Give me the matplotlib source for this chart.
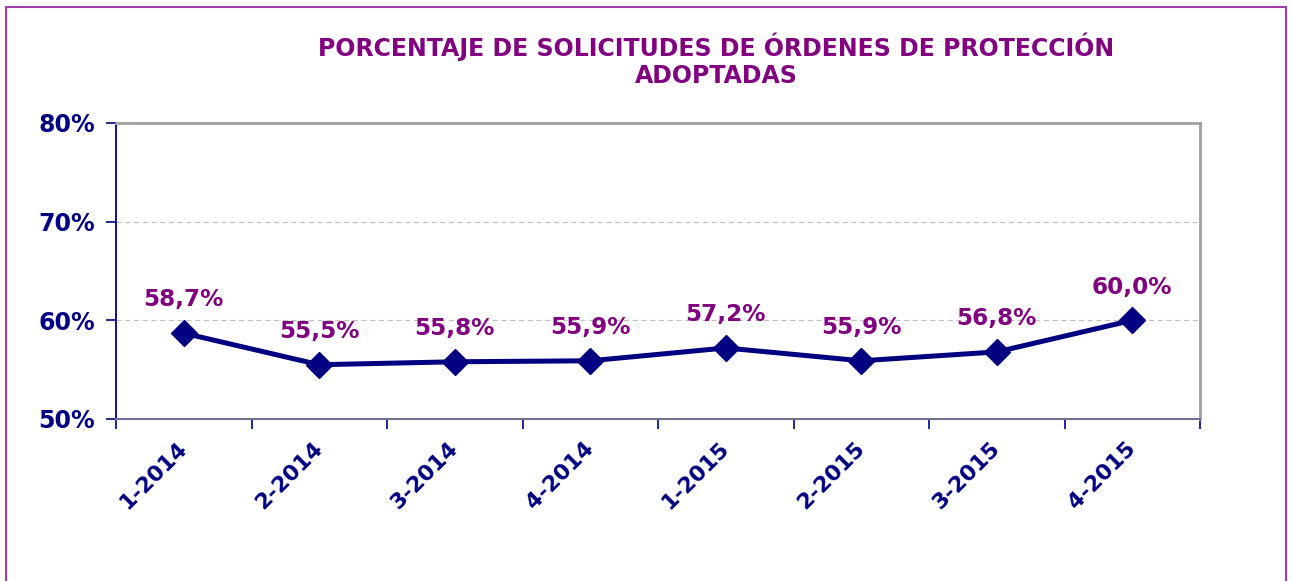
import matplotlib
matplotlib.use("Agg")
import matplotlib.pyplot as plt
from matplotlib.patches import Rectangle
from matplotlib.ticker import FixedLocator, FuncFormatter
from matplotlib.transforms import ScaledTranslation

categories = ["1-2014", "2-2014", "3-2014", "4-2014", "1-2015", "2-2015", "3-2015", "4-2015"]
values = [58.7, 55.5, 55.8, 55.9, 57.2, 55.9, 56.8, 60.0]
value_labels = ["58,7%", "55,5%", "55,8%", "55,9%", "57,2%", "55,9%", "56,8%", "60,0%"]
y_ticks = [50, 60, 70, 80]

NAVY = "#000080"
PURPLE = "#800080"

fig = plt.figure(figsize=(12.93, 5.81), dpi=100)
W, H = 1293, 581
ax = fig.add_axes([116 / W, 1 - 419 / H, (1200 - 116) / W, (419 - 123) / H])

x = list(range(len(categories)))
ax.plot(x, values, color=NAVY, lw=3.6, marker="D", markersize=13.5, zorder=3)

for xi, v, lab in zip(x, values, value_labels):
    ax.annotate(lab, (xi, v), xytext=(0, 24), textcoords="offset points",
                ha="center", va="center", color=PURPLE, fontsize=16.7, fontweight="bold")

ax.set_xlim(-0.5, len(categories) - 0.5)
ax.set_ylim(50, 80)
ax.set_yticks(y_ticks)
ax.yaxis.set_major_formatter(FuncFormatter(lambda v, p: f"{int(v)}%"))
ax.tick_params(axis="y", colors=NAVY, labelsize=17, length=7, width=1.2, pad=8)
for lab in ax.get_yticklabels():
    lab.set_fontweight("bold")

ax.set_xticks(x)
ax.set_xticklabels(categories, rotation=45, ha="right", va="top", rotation_mode="anchor",
                   fontsize=15.8, fontweight="bold", color=NAVY)
ax.tick_params(axis="x", which="major", length=0, pad=14)
shift = ScaledTranslation(-7 / 100, 0, fig.dpi_scale_trans)
for lab in ax.get_xticklabels():
    lab.set_transform(lab.get_transform() + shift)
ax.xaxis.set_minor_locator(FixedLocator([i - 0.5 for i in range(len(categories) + 1)]))
ax.tick_params(axis="x", which="minor", length=7, width=1.2, color=NAVY, direction="out")
ax.grid(axis="y", color="#c0c0c0", linestyle=(0, (4, 3)), lw=0.9)
ax.set_axisbelow(True)

ax.spines["left"].set_color(NAVY)
ax.spines["left"].set_linewidth(1.3)
ax.spines["bottom"].set_color("#707090")
ax.spines["bottom"].set_linewidth(1.5)
ax.spines["top"].set_color("#a0a0a0")
ax.spines["top"].set_linewidth(2)
ax.spines["right"].set_color("#a0a0a0")
ax.spines["right"].set_linewidth(2)

fig.text(716 / W, 1 - 47 / H, "PORCENTAJE DE SOLICITUDES DE ÓRDENES DE PROTECCIÓN",
         ha="center", va="center", color=PURPLE, fontsize=17, fontweight="bold")
fig.text(716 / W, 1 - 76 / H, "ADOPTADAS",
         ha="center", va="center", color=PURPLE, fontsize=17, fontweight="bold")

fig.patches.append(Rectangle((5.5 / W, -0.05), (1286 - 5.5) / W, 1.05 - 7.5 / H,
                             transform=fig.transFigure, fill=False,
                             edgecolor="#a040a8", lw=1.5))

fig.savefig("out.png", dpi=100)
